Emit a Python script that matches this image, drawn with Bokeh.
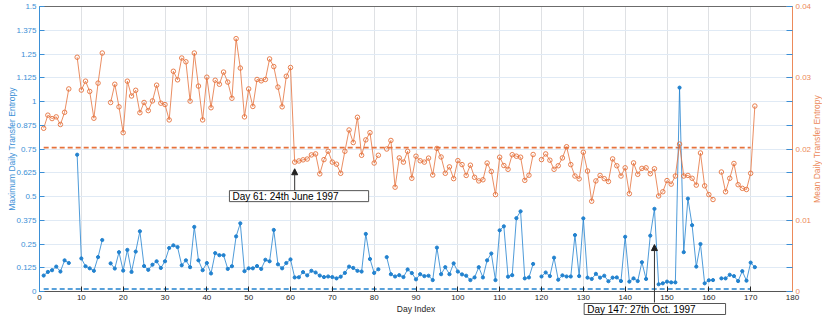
import math
from bokeh.plotting import figure
from bokeh.models import (LinearAxis, Range1d, FixedTicker, Arrow, NormalHead, Label)
from bokeh.embed import file_html
from bokeh.resources import INLINE

nan = float("nan")

# ---------------- data ----------------
days = list(range(1, 172))

max_te = [0.084, 0.103, 0.112, 0.131, 0.105, 0.164, 0.150, nan, 0.720, 0.174,
          0.133, 0.122, 0.109, 0.181, 0.271, nan, 0.148, 0.121, 0.207, 0.110,
          0.219, 0.103, 0.210, 0.317, 0.134, 0.114, 0.141, 0.159, 0.124, 0.159,
          0.229, 0.243, 0.234, 0.138, 0.164, 0.128, 0.340, 0.164, 0.112, 0.150,
          0.095, 0.202, 0.191, 0.191, 0.119, 0.133, 0.290, 0.359, 0.107, 0.122,
          0.122, 0.134, 0.119, 0.167, 0.159, 0.324, 0.143, 0.122, 0.150, 0.169,
          0.074, 0.075, 0.102, 0.085, 0.109, 0.100, 0.084, 0.076, 0.079, 0.076,
          0.069, 0.078, 0.098, 0.131, 0.124, 0.109, 0.105, 0.303, 0.171, 0.098,
          0.117, nan, 0.181, 0.091, 0.079, 0.086, 0.076, 0.116, 0.097, 0.064,
          0.091, 0.081, 0.083, 0.060, 0.231, 0.091, 0.128, 0.091, 0.148, 0.105,
          0.090, 0.083, 0.060, 0.074, 0.128, 0.074, 0.164, 0.200, 0.060, 0.322,
          0.343, 0.078, 0.086, 0.386, 0.422, 0.069, 0.074, 0.145, nan, 0.079,
          0.100, 0.081, 0.178, 0.062, 0.085, 0.079, 0.079, 0.297, 0.081, 0.385,
          0.073, 0.066, 0.093, 0.073, 0.083, 0.054, 0.073, 0.074, 0.055, 0.288,
          0.052, 0.069, 0.055, 0.154, 0.066, 0.294, 0.435, 0.038, 0.043, 0.052,
          0.048, 0.048, 1.073, 0.207, 0.489, 0.349, 0.131, 0.250, 0.043, 0.059,
          0.060, nan, 0.069, 0.069, 0.088, 0.081, 0.055, 0.107, 0.057, 0.152,
          0.128]

mean_te = [0.02291, 0.02475, 0.02427, 0.02451, 0.02344, 0.02515, 0.02843, nan, 0.03288, 0.02827,
           0.02952, 0.02808, 0.02432, 0.02925, 0.03347, nan, 0.02653, 0.02909, 0.02592, 0.02229,
           0.02952, 0.02744, 0.02824, 0.02509, 0.02653, 0.02539, 0.02675, 0.02896, 0.02643, 0.02624,
           0.02408, 0.03091, 0.02971, 0.03277, 0.03224, 0.02672, 0.03347, 0.02883, 0.02408, 0.03008,
           0.02579, 0.02965, 0.02909, 0.03080, 0.02939, 0.02712, 0.03549, 0.03136, 0.02451, 0.02843,
           0.02597, 0.02976, 0.02957, 0.02976, 0.03264, 0.03157, 0.02869, 0.02592, 0.03021, 0.03144,
           0.01816, 0.01832, 0.01848, 0.01859, 0.01917, 0.01931, 0.01651, 0.01851, 0.01968, 0.01816,
           0.01787, 0.01659, 0.01968, 0.02267, 0.02091, 0.02445, 0.01912, 0.02128, 0.02229, 0.01803,
           0.01912, nan, 0.02000, 0.02120, 0.01464, 0.01875, 0.01816, 0.01968, 0.01589, 0.01899,
           0.01835, 0.01816, 0.01872, 0.01635, 0.02008, 0.01888, 0.01659, 0.01749, 0.01584, 0.01837,
           0.01781, 0.01629, 0.01773, 0.01603, 0.01552, 0.01568, 0.01803, 0.01685, 0.01360, 0.01885,
           0.01768, 0.01715, 0.01920, 0.01899, 0.01885, 0.01560, 0.01632, 0.01923, nan, 0.01851,
           0.01931, 0.01843, 0.01715, 0.01765, 0.01875, 0.02032, 0.01781, 0.01621, 0.01581, 0.01955,
           0.01691, 0.01267, 0.01552, 0.01629, 0.01584, 0.01544, 0.01861, 0.01765, 0.01621, 0.01736,
           0.01373, 0.01805, 0.01645, 0.01728, 0.01736, 0.01653, 0.01723, 0.01341, 0.01400, 0.01557,
           0.01507, 0.01621, 0.02069, 0.01621, 0.01629, 0.01589, 0.01493, 0.01944, 0.01483, 0.01360,
           0.01291, nan, 0.01677, 0.01400, 0.01589, 0.01797, 0.01499, 0.01448, 0.01432, 0.01659,
           0.02603]

threshold_days = [1, 170]
max_threshold = 0.013
mean_threshold = 0.0202

x_ticks = list(range(0, 181, 10))
left_ticks = [0, 0.125, 0.25, 0.375, 0.5, 0.625, 0.75, 0.875, 1, 1.125, 1.25, 1.375, 1.5]
left_tick_labels = ["0", "0.125", "0.25", "0.375", "0.5", "0.625", "0.75", "0.875",
                    "1", "1.125", "1.25", "1.375", "1.5"]
right_ticks = [0, 0.01, 0.02, 0.03, 0.04]
right_tick_labels = ["0", "0.01", "0.02", "0.03", "0.04"]

x_title = "Day Index"
left_title = "Maximum Daily Transfer Entropy"
right_title = "Mean Daily Transfer Entropy"

annot_days = [61, 147]
annot_texts = ["Day 61: 24th June 1997", "Day 147: 27th Oct. 1997"]

# ---------------- style / layout ----------------
BLUE = "#2282cf"
BLUE_TXT = "#3a8fd6"
ORANGE = "#e5723c"
ORANGE_TXT = "#ec8a5a"
DARK = "#262626"
FONT = "Liberation Sans"

W, H = 822, 315
X_MIN, X_MAX = 0, 180
Y_MAX = 1.5
R_MAX = 0.04
FR_LEFT, FR_RIGHT = 39, 792      # pixel positions of day 0 / day 180
FR_TOP, FR_ZERO = 6, 291         # pixel positions of 1.5 / 0

sx = (FR_RIGHT - FR_LEFT) / (X_MAX - X_MIN)
sy = (FR_ZERO - FR_TOP) / Y_MAX
x_lo = X_MIN - FR_LEFT / sx
x_hi = X_MAX + (W - FR_RIGHT) / sx
y_hi = Y_MAX + FR_TOP / sy
y_lo = -(H - FR_ZERO) / sy
k = R_MAX / Y_MAX


def px_x(px):
    return x_lo + px / sx


def px_y(py):
    return y_hi - py / sy


p = figure(width=W, height=H, x_range=Range1d(x_lo, x_hi), y_range=Range1d(y_lo, y_hi),
           output_backend="svg", toolbar_location=None,
           min_border=0, min_border_left=0, min_border_right=0,
           min_border_top=0, min_border_bottom=0)
p.extra_y_ranges = {"mean": Range1d(y_lo * k, y_hi * k)}
p.outline_line_color = None
p.background_fill_color = "white"
p.border_fill_color = "white"

# grids
p.xgrid.ticker = FixedTicker(ticks=x_ticks)
p.xgrid.grid_line_color = "#dfe1e4"
p.xgrid.cross_bounds = (0, Y_MAX)
p.ygrid.ticker = FixedTicker(ticks=left_ticks)
p.ygrid.grid_line_color = "#e0eaf5"
p.ygrid.cross_bounds = (X_MIN, X_MAX)

# top frame line
p.line([X_MIN, X_MAX], [Y_MAX, Y_MAX], line_color="#6b6b6b", line_width=1.2)

# x axis (drawn at y = 0)
xa = p.xaxis[0]
xa.fixed_location = 0
xa.bounds = (X_MIN, X_MAX)
xa.ticker = FixedTicker(ticks=x_ticks)
xa.axis_label = x_title
xa.axis_label_text_font = FONT
xa.axis_label_text_font_size = "8.5px"
xa.axis_label_text_font_style = "normal"
xa.axis_label_text_color = DARK
xa.axis_label_standoff = 1
xa.major_label_text_font = FONT
xa.major_label_text_font_size = "8px"
xa.major_label_text_color = DARK
xa.major_label_standoff = 3
xa.axis_line_color = "#555555"
xa.major_tick_line_color = DARK
xa.major_tick_in = 5
xa.major_tick_out = 0
xa.minor_tick_line_color = None

# left axis (drawn at day 0)
ya = p.yaxis[0]
ya.fixed_location = X_MIN
ya.bounds = (0, Y_MAX)
ya.ticker = FixedTicker(ticks=left_ticks)
ya.major_label_overrides = {t: s for t, s in zip(left_ticks, left_tick_labels)}
ya.major_label_text_font = FONT
ya.major_label_text_font_size = "8px"
ya.major_label_text_color = BLUE_TXT
ya.major_label_standoff = 3
ya.axis_line_color = BLUE_TXT
ya.major_tick_line_color = BLUE_TXT
ya.major_tick_in = 5
ya.major_tick_out = 0
ya.minor_tick_line_color = None

# right axis (drawn at day 180)
minor_right = [t * k for t in left_ticks]
ra = LinearAxis(y_range_name="mean", fixed_location=X_MAX)
ra.bounds = (0, R_MAX)
ra.ticker = FixedTicker(ticks=right_ticks, minor_ticks=minor_right)
ra.major_label_overrides = {t: s for t, s in zip(right_ticks, right_tick_labels)}
ra.major_label_text_font = FONT
ra.major_label_text_font_size = "8px"
ra.major_label_text_color = ORANGE_TXT
ra.major_label_standoff = 3
ra.axis_line_color = ORANGE_TXT
ra.major_tick_line_color = ORANGE_TXT
ra.major_tick_in = 6
ra.major_tick_out = 0
ra.minor_tick_line_color = BLUE_TXT
ra.minor_tick_in = 6
ra.minor_tick_out = 0
p.add_layout(ra, "right")

# axis titles (vertical, reading bottom to top)
mid_y = (FR_TOP + FR_ZERO) / 2
p.add_layout(Label(x=px_x(11.5), y=px_y(mid_y), text=left_title, angle=math.pi / 2,
                   text_align="center", text_baseline="middle", text_font=FONT,
                   text_font_size="8.5px", text_color=BLUE_TXT))
p.add_layout(Label(x=px_x(816), y=px_y(mid_y), text=right_title, angle=math.pi / 2,
                   text_align="center", text_baseline="middle", text_font=FONT,
                   text_font_size="8.5px", text_color=ORANGE_TXT))

# threshold lines
p.line(threshold_days, [max_threshold] * 2, line_color=BLUE, line_width=1.6, line_dash="5 3")
p.line(threshold_days, [mean_threshold] * 2, line_color=ORANGE, line_width=1.6, line_dash="5 3",
       y_range_name="mean")

# series
p.line(days, max_te, line_color=BLUE, line_width=1, line_alpha=0.8)
p.scatter(days, max_te, size=3.2, marker="circle", fill_color=BLUE, line_color=BLUE)
p.line(days, mean_te, line_color=ORANGE, line_width=1, line_alpha=0.8, y_range_name="mean")
p.scatter(days, mean_te, size=4.5, marker="circle", fill_color=None, line_color=ORANGE,
          line_width=0.9, y_range_name="mean")

# annotations (arrow from note box up to the marked day)
arrow_starts = [0.527, px_y(302)]
arrow_ends = [0.646, 0.247]
label_x = [45.4, 130.2]
label_y = [0.473, px_y(314)]
for d, txt, ys, ye, lx, ly in zip(annot_days, annot_texts, arrow_starts, arrow_ends, label_x, label_y):
    p.add_layout(Arrow(end=NormalHead(size=6, fill_color="#222222", line_color="#222222", line_width=1),
                       x_start=d, y_start=ys, x_end=d, y_end=ye,
                       line_color="#333333", line_width=1))
    p.add_layout(Label(x=lx, y=ly, text=txt, text_font=FONT, text_font_size="10px",
                       text_color="black", text_baseline="bottom", text_align="left",
                       background_fill_color="white", border_line_color="#555555",
                       border_line_width=1,
                       padding=dict(left=3, right=30, top=0, bottom=0)))

open("out.html", "w").write(file_html(p, INLINE))
